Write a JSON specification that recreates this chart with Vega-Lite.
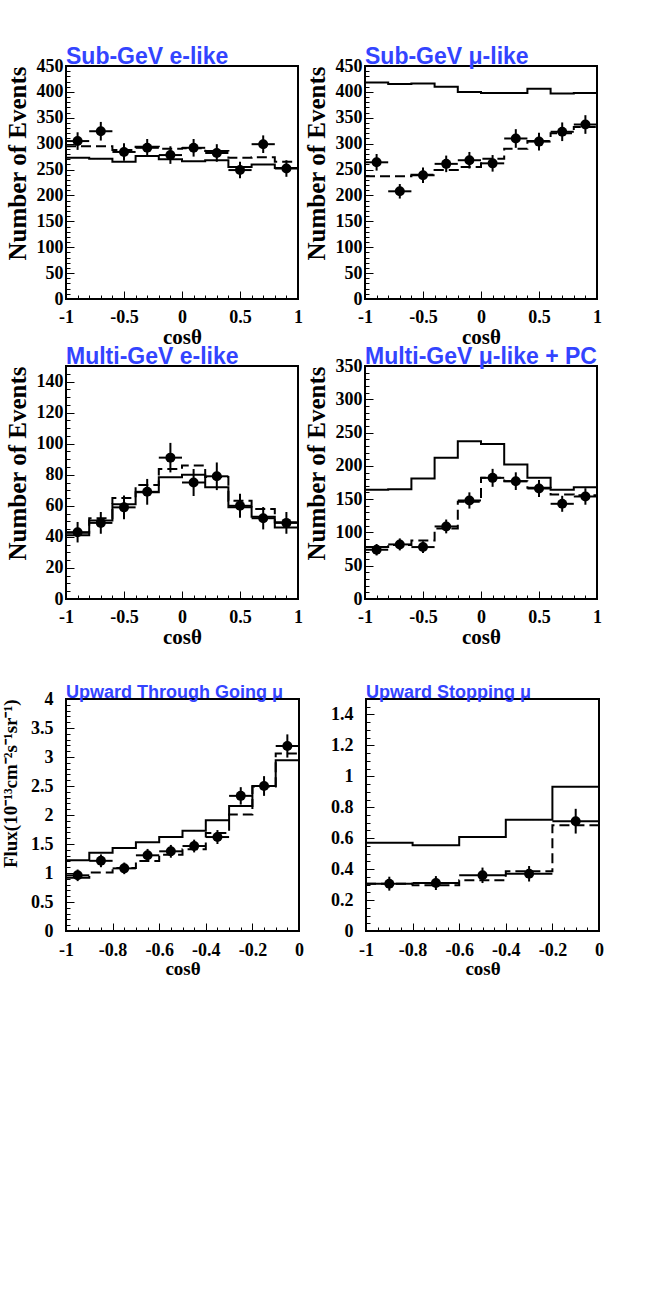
{
  "$schema": "https://vega.github.io/schema/vega-lite/v6.json",
  "padding": {"left": 0, "top": 45, "right": 0, "bottom": 0},
  "background": "white",
  "datasets": {
    "hist": [
      {"p": 1, "m": "noosc", "x": -1, "y": 273}, {"p": 1, "m": "noosc", "x": -0.8, "y": 271}, {"p": 1, "m": "noosc", "x": -0.6, "y": 265},
      {"p": 1, "m": "noosc", "x": -0.4, "y": 276}, {"p": 1, "m": "noosc", "x": -0.2, "y": 270}, {"p": 1, "m": "noosc", "x": 0, "y": 266},
      {"p": 1, "m": "noosc", "x": 0.2, "y": 268}, {"p": 1, "m": "noosc", "x": 0.4, "y": 255}, {"p": 1, "m": "noosc", "x": 0.6, "y": 260},
      {"p": 1, "m": "noosc", "x": 0.8, "y": 253}, {"p": 1, "m": "noosc", "x": 1, "y": 253},
      {"p": 1, "m": "osc", "x": -1, "y": 295}, {"p": 1, "m": "osc", "x": -0.8, "y": 295}, {"p": 1, "m": "osc", "x": -0.6, "y": 288},
      {"p": 1, "m": "osc", "x": -0.4, "y": 294}, {"p": 1, "m": "osc", "x": -0.2, "y": 290}, {"p": 1, "m": "osc", "x": 0, "y": 291},
      {"p": 1, "m": "osc", "x": 0.2, "y": 286}, {"p": 1, "m": "osc", "x": 0.4, "y": 273}, {"p": 1, "m": "osc", "x": 0.6, "y": 274},
      {"p": 1, "m": "osc", "x": 0.8, "y": 265}, {"p": 1, "m": "osc", "x": 1, "y": 265},

      {"p": 2, "m": "noosc", "x": -1, "y": 418}, {"p": 2, "m": "noosc", "x": -0.8, "y": 415}, {"p": 2, "m": "noosc", "x": -0.6, "y": 416},
      {"p": 2, "m": "noosc", "x": -0.4, "y": 410}, {"p": 2, "m": "noosc", "x": -0.2, "y": 400}, {"p": 2, "m": "noosc", "x": 0, "y": 398},
      {"p": 2, "m": "noosc", "x": 0.2, "y": 398}, {"p": 2, "m": "noosc", "x": 0.4, "y": 406}, {"p": 2, "m": "noosc", "x": 0.6, "y": 397},
      {"p": 2, "m": "noosc", "x": 0.8, "y": 398}, {"p": 2, "m": "noosc", "x": 1, "y": 398},
      {"p": 2, "m": "osc", "x": -1, "y": 237}, {"p": 2, "m": "osc", "x": -0.8, "y": 237}, {"p": 2, "m": "osc", "x": -0.6, "y": 240},
      {"p": 2, "m": "osc", "x": -0.4, "y": 249}, {"p": 2, "m": "osc", "x": -0.2, "y": 255}, {"p": 2, "m": "osc", "x": 0, "y": 271},
      {"p": 2, "m": "osc", "x": 0.2, "y": 290}, {"p": 2, "m": "osc", "x": 0.4, "y": 305}, {"p": 2, "m": "osc", "x": 0.6, "y": 320},
      {"p": 2, "m": "osc", "x": 0.8, "y": 332}, {"p": 2, "m": "osc", "x": 1, "y": 332},

      {"p": 3, "m": "noosc", "x": -1, "y": 41}, {"p": 3, "m": "noosc", "x": -0.8, "y": 50.5}, {"p": 3, "m": "noosc", "x": -0.6, "y": 61},
      {"p": 3, "m": "noosc", "x": -0.4, "y": 68.7}, {"p": 3, "m": "noosc", "x": -0.2, "y": 78.4}, {"p": 3, "m": "noosc", "x": 0, "y": 80},
      {"p": 3, "m": "noosc", "x": 0.2, "y": 72}, {"p": 3, "m": "noosc", "x": 0.4, "y": 59}, {"p": 3, "m": "noosc", "x": 0.6, "y": 53},
      {"p": 3, "m": "noosc", "x": 0.8, "y": 46}, {"p": 3, "m": "noosc", "x": 1, "y": 46},
      {"p": 3, "m": "osc", "x": -1, "y": 42.7}, {"p": 3, "m": "osc", "x": -0.8, "y": 52}, {"p": 3, "m": "osc", "x": -0.6, "y": 65},
      {"p": 3, "m": "osc", "x": -0.4, "y": 73.4}, {"p": 3, "m": "osc", "x": -0.2, "y": 83.7}, {"p": 3, "m": "osc", "x": 0, "y": 86},
      {"p": 3, "m": "osc", "x": 0.2, "y": 78.5}, {"p": 3, "m": "osc", "x": 0.4, "y": 63.3}, {"p": 3, "m": "osc", "x": 0.6, "y": 58},
      {"p": 3, "m": "osc", "x": 0.8, "y": 49.4}, {"p": 3, "m": "osc", "x": 1, "y": 49.4},

      {"p": 4, "m": "noosc", "x": -1, "y": 164}, {"p": 4, "m": "noosc", "x": -0.8, "y": 165}, {"p": 4, "m": "noosc", "x": -0.6, "y": 181},
      {"p": 4, "m": "noosc", "x": -0.4, "y": 212}, {"p": 4, "m": "noosc", "x": -0.2, "y": 237}, {"p": 4, "m": "noosc", "x": 0, "y": 233},
      {"p": 4, "m": "noosc", "x": 0.2, "y": 202}, {"p": 4, "m": "noosc", "x": 0.4, "y": 182}, {"p": 4, "m": "noosc", "x": 0.6, "y": 164},
      {"p": 4, "m": "noosc", "x": 0.8, "y": 168}, {"p": 4, "m": "noosc", "x": 1, "y": 168},
      {"p": 4, "m": "osc", "x": -1, "y": 78}, {"p": 4, "m": "osc", "x": -0.8, "y": 81}, {"p": 4, "m": "osc", "x": -0.6, "y": 88},
      {"p": 4, "m": "osc", "x": -0.4, "y": 106}, {"p": 4, "m": "osc", "x": -0.2, "y": 146}, {"p": 4, "m": "osc", "x": 0, "y": 182},
      {"p": 4, "m": "osc", "x": 0.2, "y": 177}, {"p": 4, "m": "osc", "x": 0.4, "y": 167}, {"p": 4, "m": "osc", "x": 0.6, "y": 157},
      {"p": 4, "m": "osc", "x": 0.8, "y": 156}, {"p": 4, "m": "osc", "x": 1, "y": 156},

      {"p": 5, "m": "noosc", "x": -1, "y": 1.22}, {"p": 5, "m": "noosc", "x": -0.9, "y": 1.35}, {"p": 5, "m": "noosc", "x": -0.8, "y": 1.43},
      {"p": 5, "m": "noosc", "x": -0.7, "y": 1.53}, {"p": 5, "m": "noosc", "x": -0.6, "y": 1.62}, {"p": 5, "m": "noosc", "x": -0.5, "y": 1.73},
      {"p": 5, "m": "noosc", "x": -0.4, "y": 1.91}, {"p": 5, "m": "noosc", "x": -0.3, "y": 2.155}, {"p": 5, "m": "noosc", "x": -0.2, "y": 2.5},
      {"p": 5, "m": "noosc", "x": -0.1, "y": 2.945}, {"p": 5, "m": "noosc", "x": 0, "y": 2.945},
      {"p": 5, "m": "osc", "x": -1, "y": 0.92}, {"p": 5, "m": "osc", "x": -0.9, "y": 1.01}, {"p": 5, "m": "osc", "x": -0.8, "y": 1.086},
      {"p": 5, "m": "osc", "x": -0.7, "y": 1.207}, {"p": 5, "m": "osc", "x": -0.6, "y": 1.315}, {"p": 5, "m": "osc", "x": -0.5, "y": 1.41},
      {"p": 5, "m": "osc", "x": -0.4, "y": 1.69}, {"p": 5, "m": "osc", "x": -0.3, "y": 2.01}, {"p": 5, "m": "osc", "x": -0.2, "y": 2.49},
      {"p": 5, "m": "osc", "x": -0.1, "y": 3.06}, {"p": 5, "m": "osc", "x": 0, "y": 3.06},

      {"p": 6, "m": "noosc", "x": -1, "y": 0.57}, {"p": 6, "m": "noosc", "x": -0.8, "y": 0.554}, {"p": 6, "m": "noosc", "x": -0.6, "y": 0.608},
      {"p": 6, "m": "noosc", "x": -0.4, "y": 0.72}, {"p": 6, "m": "noosc", "x": -0.2, "y": 0.933}, {"p": 6, "m": "noosc", "x": 0, "y": 0.933},
      {"p": 6, "m": "osc", "x": -1, "y": 0.305}, {"p": 6, "m": "osc", "x": -0.8, "y": 0.295}, {"p": 6, "m": "osc", "x": -0.6, "y": 0.328},
      {"p": 6, "m": "osc", "x": -0.4, "y": 0.386}, {"p": 6, "m": "osc", "x": -0.2, "y": 0.683}, {"p": 6, "m": "osc", "x": 0, "y": 0.683}
    ],
    "pts": [
      {"p": 1, "x": -0.9, "y": 305, "ey": 17, "ex": 0.1}, {"p": 1, "x": -0.7, "y": 324, "ey": 18, "ex": 0.1},
      {"p": 1, "x": -0.5, "y": 284, "ey": 17, "ex": 0.1}, {"p": 1, "x": -0.3, "y": 292, "ey": 17, "ex": 0.1},
      {"p": 1, "x": -0.1, "y": 278, "ey": 17, "ex": 0.1}, {"p": 1, "x": 0.1, "y": 292, "ey": 17, "ex": 0.1},
      {"p": 1, "x": 0.3, "y": 282, "ey": 17, "ex": 0.1}, {"p": 1, "x": 0.5, "y": 249, "ey": 16, "ex": 0.1},
      {"p": 1, "x": 0.7, "y": 299, "ey": 17, "ex": 0.1}, {"p": 1, "x": 0.9, "y": 252, "ey": 16, "ex": 0.1},

      {"p": 2, "x": -0.9, "y": 264, "ey": 16, "ex": 0.1}, {"p": 2, "x": -0.7, "y": 208, "ey": 14, "ex": 0.1},
      {"p": 2, "x": -0.5, "y": 239, "ey": 15, "ex": 0.1}, {"p": 2, "x": -0.3, "y": 261, "ey": 16, "ex": 0.1},
      {"p": 2, "x": -0.1, "y": 268, "ey": 16, "ex": 0.1}, {"p": 2, "x": 0.1, "y": 262, "ey": 16, "ex": 0.1},
      {"p": 2, "x": 0.3, "y": 310, "ey": 18, "ex": 0.1}, {"p": 2, "x": 0.5, "y": 304, "ey": 17, "ex": 0.1},
      {"p": 2, "x": 0.7, "y": 323, "ey": 18, "ex": 0.1}, {"p": 2, "x": 0.9, "y": 337, "ey": 18, "ex": 0.1},

      {"p": 3, "x": -0.9, "y": 43, "ey": 6.6, "ex": 0.1}, {"p": 3, "x": -0.7, "y": 49, "ey": 7, "ex": 0.1},
      {"p": 3, "x": -0.5, "y": 59, "ey": 7.7, "ex": 0.1}, {"p": 3, "x": -0.3, "y": 69, "ey": 8.3, "ex": 0.1},
      {"p": 3, "x": -0.1, "y": 91, "ey": 9.5, "ex": 0.1}, {"p": 3, "x": 0.1, "y": 75, "ey": 8.7, "ex": 0.1},
      {"p": 3, "x": 0.3, "y": 79, "ey": 8.9, "ex": 0.1}, {"p": 3, "x": 0.5, "y": 60, "ey": 7.7, "ex": 0.1},
      {"p": 3, "x": 0.7, "y": 52, "ey": 7.2, "ex": 0.1}, {"p": 3, "x": 0.9, "y": 49, "ey": 7, "ex": 0.1},

      {"p": 4, "x": -0.9, "y": 74, "ey": 8.6, "ex": 0.1}, {"p": 4, "x": -0.7, "y": 82, "ey": 9, "ex": 0.1},
      {"p": 4, "x": -0.5, "y": 78, "ey": 8.8, "ex": 0.1}, {"p": 4, "x": -0.3, "y": 109, "ey": 10.4, "ex": 0.1},
      {"p": 4, "x": -0.1, "y": 148, "ey": 12.2, "ex": 0.1}, {"p": 4, "x": 0.1, "y": 182, "ey": 13.5, "ex": 0.1},
      {"p": 4, "x": 0.3, "y": 177, "ey": 13.3, "ex": 0.1}, {"p": 4, "x": 0.5, "y": 166, "ey": 12.9, "ex": 0.1},
      {"p": 4, "x": 0.7, "y": 143, "ey": 12, "ex": 0.1}, {"p": 4, "x": 0.9, "y": 154, "ey": 12.4, "ex": 0.1},

      {"p": 5, "x": -0.95, "y": 0.96, "ey": 0.1, "ex": 0.05}, {"p": 5, "x": -0.85, "y": 1.21, "ey": 0.11, "ex": 0.05},
      {"p": 5, "x": -0.75, "y": 1.08, "ey": 0.1, "ex": 0.05}, {"p": 5, "x": -0.65, "y": 1.305, "ey": 0.11, "ex": 0.05},
      {"p": 5, "x": -0.55, "y": 1.374, "ey": 0.11, "ex": 0.05}, {"p": 5, "x": -0.45, "y": 1.465, "ey": 0.11, "ex": 0.05},
      {"p": 5, "x": -0.35, "y": 1.62, "ey": 0.12, "ex": 0.05}, {"p": 5, "x": -0.25, "y": 2.33, "ey": 0.15, "ex": 0.05},
      {"p": 5, "x": -0.15, "y": 2.5, "ey": 0.17, "ex": 0.05}, {"p": 5, "x": -0.05, "y": 3.19, "ey": 0.2, "ex": 0.05},

      {"p": 6, "x": -0.9, "y": 0.306, "ey": 0.045, "ex": 0.1}, {"p": 6, "x": -0.7, "y": 0.31, "ey": 0.045, "ex": 0.1},
      {"p": 6, "x": -0.5, "y": 0.36, "ey": 0.05, "ex": 0.1}, {"p": 6, "x": -0.3, "y": 0.37, "ey": 0.05, "ex": 0.1},
      {"p": 6, "x": -0.1, "y": 0.71, "ey": 0.08, "ex": 0.1}
    ]
  },
  "vconcat": [
    {
      "vconcat": [
        {
          "hconcat": [
            {
              "width": 232, "height": 233,
              "title": {"text": "Sub-GeV e-like", "fontSize": 23},
              "encoding": {
                "x": {"field": "x", "type": "quantitative", "scale": {"domain": [-1, 1], "nice": false},
                  "axis": {"title": "cosθ", "titleFontSize": 21, "titlePadding": -4, "labelPadding": 17,
                    "values": [-1, -0.9, -0.8, -0.7, -0.6, -0.5, -0.4, -0.3, -0.2, -0.1, 0, 0.1, 0.2, 0.3, 0.4, 0.5, 0.6, 0.7, 0.8, 0.9, 1],
                    "labelExpr": "abs(datum.value*2-round(datum.value*2))<0.001 ? '' + datum.value : ''",
                    "tickSize": {"condition": {"test": "abs(datum.value*2-round(datum.value*2))<0.001", "value": -8}, "value": -4}}},
                "y": {"field": "y", "type": "quantitative", "scale": {"domain": [0, 450], "nice": false},
                  "axis": {"title": "Number of Events", "titleFontSize": 25, "titlePadding": 6, "labelPadding": 11,
                    "values": [0, 10, 20, 30, 40, 50, 60, 70, 80, 90, 100, 110, 120, 130, 140, 150, 160, 170, 180, 190, 200, 210, 220, 230, 240, 250, 260, 270, 280, 290, 300, 310, 320, 330, 340, 350, 360, 370, 380, 390, 400, 410, 420, 430, 440, 450],
                    "labelExpr": "datum.value % 50 == 0 ? '' + datum.value : ''",
                    "tickSize": {"condition": {"test": "datum.value % 50 == 0", "value": -8}, "value": -4}}}
              },
              "layer": [
                {"data": {"name": "hist"}, "transform": [{"filter": "datum.p == 1"}],
                 "mark": {"type": "line", "interpolate": "step-after", "strokeWidth": 2, "color": "black"},
                 "encoding": {"strokeDash": {"field": "m", "type": "nominal", "scale": {"domain": ["noosc", "osc"], "range": [[1, 0], [10, 5]]}, "legend": null}}},
                {"data": {"name": "pts"}, "transform": [{"filter": "datum.p == 1"}],
                 "mark": {"type": "errorbar", "color": "black", "thickness": 2}, "encoding": {"yError": {"field": "ey"}}},
                {"data": {"name": "pts"}, "transform": [{"filter": "datum.p == 1"}],
                 "mark": {"type": "errorbar", "color": "black", "thickness": 2}, "encoding": {"xError": {"field": "ex"}}},
                {"data": {"name": "pts"}, "transform": [{"filter": "datum.p == 1"}],
                 "mark": {"type": "circle", "size": 100, "color": "black", "opacity": 1}}
              ]
            },
            {
              "width": 232, "height": 233,
              "title": {"text": "Sub-GeV μ-like", "fontSize": 23},
              "encoding": {
                "x": {"field": "x", "type": "quantitative", "scale": {"domain": [-1, 1], "nice": false},
                  "axis": {"title": "cosθ", "titleFontSize": 21, "titlePadding": -4, "labelPadding": 17,
                    "values": [-1, -0.9, -0.8, -0.7, -0.6, -0.5, -0.4, -0.3, -0.2, -0.1, 0, 0.1, 0.2, 0.3, 0.4, 0.5, 0.6, 0.7, 0.8, 0.9, 1],
                    "labelExpr": "abs(datum.value*2-round(datum.value*2))<0.001 ? '' + datum.value : ''",
                    "tickSize": {"condition": {"test": "abs(datum.value*2-round(datum.value*2))<0.001", "value": -8}, "value": -4}}},
                "y": {"field": "y", "type": "quantitative", "scale": {"domain": [0, 450], "nice": false},
                  "axis": {"title": "Number of Events", "titleFontSize": 25, "titlePadding": 6, "labelPadding": 11,
                    "values": [0, 10, 20, 30, 40, 50, 60, 70, 80, 90, 100, 110, 120, 130, 140, 150, 160, 170, 180, 190, 200, 210, 220, 230, 240, 250, 260, 270, 280, 290, 300, 310, 320, 330, 340, 350, 360, 370, 380, 390, 400, 410, 420, 430, 440, 450],
                    "labelExpr": "datum.value % 50 == 0 ? '' + datum.value : ''",
                    "tickSize": {"condition": {"test": "datum.value % 50 == 0", "value": -8}, "value": -4}}}
              },
              "layer": [
                {"data": {"name": "hist"}, "transform": [{"filter": "datum.p == 2"}],
                 "mark": {"type": "line", "interpolate": "step-after", "strokeWidth": 2, "color": "black"},
                 "encoding": {"strokeDash": {"field": "m", "type": "nominal", "scale": {"domain": ["noosc", "osc"], "range": [[1, 0], [10, 5]]}, "legend": null}}},
                {"data": {"name": "pts"}, "transform": [{"filter": "datum.p == 2"}],
                 "mark": {"type": "errorbar", "color": "black", "thickness": 2}, "encoding": {"yError": {"field": "ey"}}},
                {"data": {"name": "pts"}, "transform": [{"filter": "datum.p == 2"}],
                 "mark": {"type": "errorbar", "color": "black", "thickness": 2}, "encoding": {"xError": {"field": "ex"}}},
                {"data": {"name": "pts"}, "transform": [{"filter": "datum.p == 2"}],
                 "mark": {"type": "circle", "size": 100, "color": "black", "opacity": 1}}
              ]
            }
          ],
          "spacing": -2
        },
        {
          "hconcat": [
            {
              "width": 232, "height": 233,
              "title": {"text": "Multi-GeV e-like", "fontSize": 23},
              "encoding": {
                "x": {"field": "x", "type": "quantitative", "scale": {"domain": [-1, 1], "nice": false},
                  "axis": {"title": "cosθ", "titleFontSize": 21, "titlePadding": -4, "labelPadding": 17,
                    "values": [-1, -0.9, -0.8, -0.7, -0.6, -0.5, -0.4, -0.3, -0.2, -0.1, 0, 0.1, 0.2, 0.3, 0.4, 0.5, 0.6, 0.7, 0.8, 0.9, 1],
                    "labelExpr": "abs(datum.value*2-round(datum.value*2))<0.001 ? '' + datum.value : ''",
                    "tickSize": {"condition": {"test": "abs(datum.value*2-round(datum.value*2))<0.001", "value": -8}, "value": -4}}},
                "y": {"field": "y", "type": "quantitative", "scale": {"domain": [0, 150], "nice": false},
                  "axis": {"title": "Number of Events", "titleFontSize": 25, "titlePadding": 6, "labelPadding": 11,
                    "values": [0, 5, 10, 15, 20, 25, 30, 35, 40, 45, 50, 55, 60, 65, 70, 75, 80, 85, 90, 95, 100, 105, 110, 115, 120, 125, 130, 135, 140, 145, 150],
                    "labelExpr": "datum.value % 20 == 0 ? '' + datum.value : ''",
                    "tickSize": {"condition": {"test": "datum.value % 20 == 0", "value": -8}, "value": -4}}}
              },
              "layer": [
                {"data": {"name": "hist"}, "transform": [{"filter": "datum.p == 3"}],
                 "mark": {"type": "line", "interpolate": "step-after", "strokeWidth": 2, "color": "black"},
                 "encoding": {"strokeDash": {"field": "m", "type": "nominal", "scale": {"domain": ["noosc", "osc"], "range": [[1, 0], [10, 5]]}, "legend": null}}},
                {"data": {"name": "pts"}, "transform": [{"filter": "datum.p == 3"}],
                 "mark": {"type": "errorbar", "color": "black", "thickness": 2}, "encoding": {"yError": {"field": "ey"}}},
                {"data": {"name": "pts"}, "transform": [{"filter": "datum.p == 3"}],
                 "mark": {"type": "errorbar", "color": "black", "thickness": 2}, "encoding": {"xError": {"field": "ex"}}},
                {"data": {"name": "pts"}, "transform": [{"filter": "datum.p == 3"}],
                 "mark": {"type": "circle", "size": 100, "color": "black", "opacity": 1}}
              ]
            },
            {
              "width": 232, "height": 233,
              "title": {"text": "Multi-GeV μ-like + PC", "fontSize": 23},
              "encoding": {
                "x": {"field": "x", "type": "quantitative", "scale": {"domain": [-1, 1], "nice": false},
                  "axis": {"title": "cosθ", "titleFontSize": 21, "titlePadding": -4, "labelPadding": 17,
                    "values": [-1, -0.9, -0.8, -0.7, -0.6, -0.5, -0.4, -0.3, -0.2, -0.1, 0, 0.1, 0.2, 0.3, 0.4, 0.5, 0.6, 0.7, 0.8, 0.9, 1],
                    "labelExpr": "abs(datum.value*2-round(datum.value*2))<0.001 ? '' + datum.value : ''",
                    "tickSize": {"condition": {"test": "abs(datum.value*2-round(datum.value*2))<0.001", "value": -8}, "value": -4}}},
                "y": {"field": "y", "type": "quantitative", "scale": {"domain": [0, 350], "nice": false},
                  "axis": {"title": "Number of Events", "titleFontSize": 25, "titlePadding": 6, "labelPadding": 11,
                    "values": [0, 10, 20, 30, 40, 50, 60, 70, 80, 90, 100, 110, 120, 130, 140, 150, 160, 170, 180, 190, 200, 210, 220, 230, 240, 250, 260, 270, 280, 290, 300, 310, 320, 330, 340, 350],
                    "labelExpr": "datum.value % 50 == 0 ? '' + datum.value : ''",
                    "tickSize": {"condition": {"test": "datum.value % 50 == 0", "value": -8}, "value": -4}}}
              },
              "layer": [
                {"data": {"name": "hist"}, "transform": [{"filter": "datum.p == 4"}],
                 "mark": {"type": "line", "interpolate": "step-after", "strokeWidth": 2, "color": "black"},
                 "encoding": {"strokeDash": {"field": "m", "type": "nominal", "scale": {"domain": ["noosc", "osc"], "range": [[1, 0], [10, 5]]}, "legend": null}}},
                {"data": {"name": "pts"}, "transform": [{"filter": "datum.p == 4"}],
                 "mark": {"type": "errorbar", "color": "black", "thickness": 2}, "encoding": {"yError": {"field": "ey"}}},
                {"data": {"name": "pts"}, "transform": [{"filter": "datum.p == 4"}],
                 "mark": {"type": "errorbar", "color": "black", "thickness": 2}, "encoding": {"xError": {"field": "ex"}}},
                {"data": {"name": "pts"}, "transform": [{"filter": "datum.p == 4"}],
                 "mark": {"type": "circle", "size": 100, "color": "black", "opacity": 1}}
              ]
            }
          ],
          "spacing": -2
        }
      ],
      "spacing": -3
    },
    {
      "hconcat": [
        {
          "width": 233, "height": 232,
          "title": {"text": "Upward Through Going μ", "fontSize": 18},
          "encoding": {
            "x": {"field": "x", "type": "quantitative", "scale": {"domain": [-1, 0], "nice": false},
              "axis": {"title": "cosθ", "titleFontSize": 19, "titlePadding": -4, "labelPadding": 18,
                "values": [-1, -0.95, -0.9, -0.85, -0.8, -0.75, -0.7, -0.65, -0.6, -0.55, -0.5, -0.45, -0.4, -0.35, -0.3, -0.25, -0.2, -0.15, -0.1, -0.05, 0],
                "labelExpr": "abs(datum.value*5-round(datum.value*5))<0.001 ? '' + datum.value : ''",
                "tickSize": {"condition": {"test": "abs(datum.value*5-round(datum.value*5))<0.001", "value": -8}, "value": -4}}},
            "y": {"field": "y", "type": "quantitative", "scale": {"domain": [0, 4], "nice": false},
              "axis": {"title": "Flux(10⁻¹³cm⁻²s⁻¹sr⁻¹)", "titleFontSize": 19, "titlePadding": 10, "labelPadding": 21,
                "values": [0, 0.1, 0.2, 0.3, 0.4, 0.5, 0.6, 0.7, 0.8, 0.9, 1, 1.1, 1.2, 1.3, 1.4, 1.5, 1.6, 1.7, 1.8, 1.9, 2, 2.1, 2.2, 2.3, 2.4, 2.5, 2.6, 2.7, 2.8, 2.9, 3, 3.1, 3.2, 3.3, 3.4, 3.5, 3.6, 3.7, 3.8, 3.9, 4],
                "labelExpr": "abs(datum.value*2-round(datum.value*2))<0.001 ? '' + datum.value : ''",
                "tickSize": {"condition": {"test": "abs(datum.value*2-round(datum.value*2))<0.001", "value": -8}, "value": -4}}}
          },
          "layer": [
            {"data": {"name": "hist"}, "transform": [{"filter": "datum.p == 5"}],
             "mark": {"type": "line", "interpolate": "step-after", "strokeWidth": 2, "color": "black"},
             "encoding": {"strokeDash": {"field": "m", "type": "nominal", "scale": {"domain": ["noosc", "osc"], "range": [[1, 0], [10, 5]]}, "legend": null}}},
            {"data": {"name": "pts"}, "transform": [{"filter": "datum.p == 5"}],
             "mark": {"type": "errorbar", "color": "black", "thickness": 2}, "encoding": {"yError": {"field": "ey"}}},
            {"data": {"name": "pts"}, "transform": [{"filter": "datum.p == 5"}],
             "mark": {"type": "errorbar", "color": "black", "thickness": 2}, "encoding": {"xError": {"field": "ex"}}},
            {"data": {"name": "pts"}, "transform": [{"filter": "datum.p == 5"}],
             "mark": {"type": "circle", "size": 100, "color": "black", "opacity": 1}}
          ]
        },
        {
          "width": 233, "height": 232,
          "title": {"text": "Upward Stopping μ", "fontSize": 18},
          "encoding": {
            "x": {"field": "x", "type": "quantitative", "scale": {"domain": [-1, 0], "nice": false},
              "axis": {"title": "cosθ", "titleFontSize": 19, "titlePadding": -4, "labelPadding": 18,
                "values": [-1, -0.95, -0.9, -0.85, -0.8, -0.75, -0.7, -0.65, -0.6, -0.55, -0.5, -0.45, -0.4, -0.35, -0.3, -0.25, -0.2, -0.15, -0.1, -0.05, 0],
                "labelExpr": "abs(datum.value*5-round(datum.value*5))<0.001 ? '' + datum.value : ''",
                "tickSize": {"condition": {"test": "abs(datum.value*5-round(datum.value*5))<0.001", "value": -8}, "value": -4}}},
            "y": {"field": "y", "type": "quantitative", "scale": {"domain": [0, 1.5], "nice": false},
              "axis": {"title": null, "labelPadding": 21,
                "values": [0, 0.05, 0.1, 0.15, 0.2, 0.25, 0.3, 0.35, 0.4, 0.45, 0.5, 0.55, 0.6, 0.65, 0.7, 0.75, 0.8, 0.85, 0.9, 0.95, 1, 1.05, 1.1, 1.15, 1.2, 1.25, 1.3, 1.35, 1.4, 1.45, 1.5],
                "labelExpr": "abs(datum.value*5-round(datum.value*5))<0.001 ? '' + datum.value : ''",
                "tickSize": {"condition": {"test": "abs(datum.value*5-round(datum.value*5))<0.001", "value": -8}, "value": -4}}}
          },
          "layer": [
            {"data": {"name": "hist"}, "transform": [{"filter": "datum.p == 6"}],
             "mark": {"type": "line", "interpolate": "step-after", "strokeWidth": 2, "color": "black"},
             "encoding": {"strokeDash": {"field": "m", "type": "nominal", "scale": {"domain": ["noosc", "osc"], "range": [[1, 0], [10, 5]]}, "legend": null}}},
            {"data": {"name": "pts"}, "transform": [{"filter": "datum.p == 6"}],
             "mark": {"type": "errorbar", "color": "black", "thickness": 2}, "encoding": {"yError": {"field": "ey"}}},
            {"data": {"name": "pts"}, "transform": [{"filter": "datum.p == 6"}],
             "mark": {"type": "errorbar", "color": "black", "thickness": 2}, "encoding": {"xError": {"field": "ex"}}},
            {"data": {"name": "pts"}, "transform": [{"filter": "datum.p == 6"}],
             "mark": {"type": "circle", "size": 100, "color": "black", "opacity": 1}}
          ]
        }
      ],
      "spacing": 24
    }
  ],
  "spacing": 35,
  "config": {
    "view": {"stroke": "black", "strokeWidth": 2},
    "axis": {
      "grid": false, "domain": false,
      "labelFont": "Liberation Serif", "labelFontWeight": "bold", "labelFontSize": 18, "labelColor": "black",
      "titleFont": "Liberation Serif", "titleFontWeight": "bold", "titleColor": "black",
      "tickColor": "black", "tickWidth": 1,
      "labelOverlap": false, "labelFlush": false, "labelBound": false
    },
    "axisY": {"titleAnchor": "end"},
    "title": {"font": "Liberation Sans", "fontWeight": "bold", "color": "#3344ff", "anchor": "start", "frame": "group", "baseline": "alphabetic", "offset": -12}
  }
}
